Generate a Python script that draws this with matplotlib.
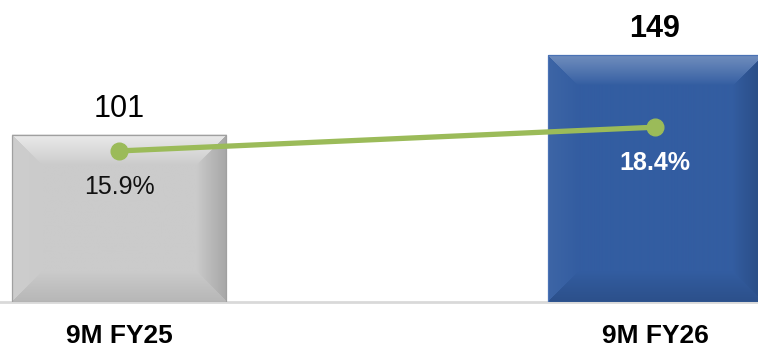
"""Two-period bar chart with a margin line: 9M FY25 vs 9M FY26."""

import matplotlib
matplotlib.use("Agg")
import matplotlib.pyplot as plt
import matplotlib.colors as mcolors
import numpy as np

plt.rcParams["font.family"] = ["Liberation Sans", "DejaVu Sans"]

periods = ["9M FY25", "9M FY26"]
values = [101, 149]
margins = [15.9, 18.4]

bar_colors = ["#cbcbcb", "#335da1"]
edge_colors = ["#a0a0a0", "#4a72b5"]
value_weights = ["normal", "bold"]
pct_colors = ["#111111", "white"]
pct_weights = ["normal", "bold"]
LINE_GREEN = "#9bbb59"

# per-edge shading (top, bottom, left, right): >0 lightens, <0 darkens
BEVEL = {
    "#cbcbcb": (0.62, -0.10, 0.04, -0.18),
    "#335da1": (0.30, -0.14, 0.05, -0.18),
}
BEVEL_PX = 30


def bevel_image(color, w_px, h_px, shade, bw=BEVEL_PX):
    base = np.array(mcolors.to_rgb(color))
    yy, xx = np.mgrid[0:h_px, 0:w_px] + 0.5
    d = np.stack([yy, h_px - yy, xx, w_px - xx])
    idx = d.argmin(axis=0)
    t = np.clip(1 - d.min(axis=0) / bw, 0, 1) ** 0.9
    a = np.array(shade)[idx] * t
    a = a[..., None]
    img = np.where(a > 0, base + (1 - base) * a, base * (1 + a))
    return np.clip(img, 0, 1)


fig = plt.figure(figsize=(7.58, 3.5), dpi=100)
ax = fig.add_axes([0, 48 / 350, 1, 302 / 350])
x = np.arange(len(periods))
XLIM = (-119 / 536, 639 / 536)
YLIM = (0, 182.5)
ax.set_xlim(*XLIM)
ax.set_ylim(*YLIM)

bars = ax.bar(x, values, width=0.4, color=bar_colors, linewidth=0, zorder=2)
for bar, col, ec in zip(bars, bar_colors, edge_colors):
    x0, y0 = bar.get_xy()
    w, h = bar.get_width(), bar.get_height()
    (px0, py0), (px1, py1) = ax.transData.transform([(x0, y0), (x0 + w, y0 + h)])
    img = bevel_image(col, int(round(px1 - px0)), int(round(py1 - py0)), BEVEL[col])
    ax.imshow(img, extent=(x0, x0 + w, y0, y0 + h), aspect="auto",
              interpolation="bilinear", zorder=3)
    ax.add_patch(plt.Rectangle((x0, y0), w, h, fill=False, ec=ec, lw=0.9, zorder=4))

for xi, v, fw in zip(x, values, value_weights):
    ax.annotate(f"{v}", (xi, v), xytext=(0, 13), textcoords="offset points",
                ha="center", va="baseline", fontsize=22, fontweight=fw, color="black")

ax.axhline(0, color="#d9d9d9", lw=2, zorder=1, clip_on=False)
ax.set_xlim(*XLIM)
ax.set_ylim(*YLIM)
ax.set_xticks(x, periods, fontsize=19, fontweight="bold")
ax.tick_params(axis="x", length=0, pad=15.5)
ax.set_yticks([])
for s in ax.spines.values():
    s.set_visible(False)

ax2 = ax.twinx()
ax2.set_ylim(0, 302 / 9.5)
ax2.plot(x, margins, color=LINE_GREEN, lw=3.8, marker="o", ms=12,
         solid_capstyle="round")
for xi, m, c, fw in zip(x, margins, pct_colors, pct_weights):
    ax2.annotate(f"{m:.1f}%", (xi, m), xytext=(0, -31), textcoords="offset points",
                 ha="center", va="baseline", fontsize=18, fontweight=fw, color=c)
ax2.set_yticks([])
for s in ax2.spines.values():
    s.set_visible(False)

fig.savefig("out.png", dpi=100)
